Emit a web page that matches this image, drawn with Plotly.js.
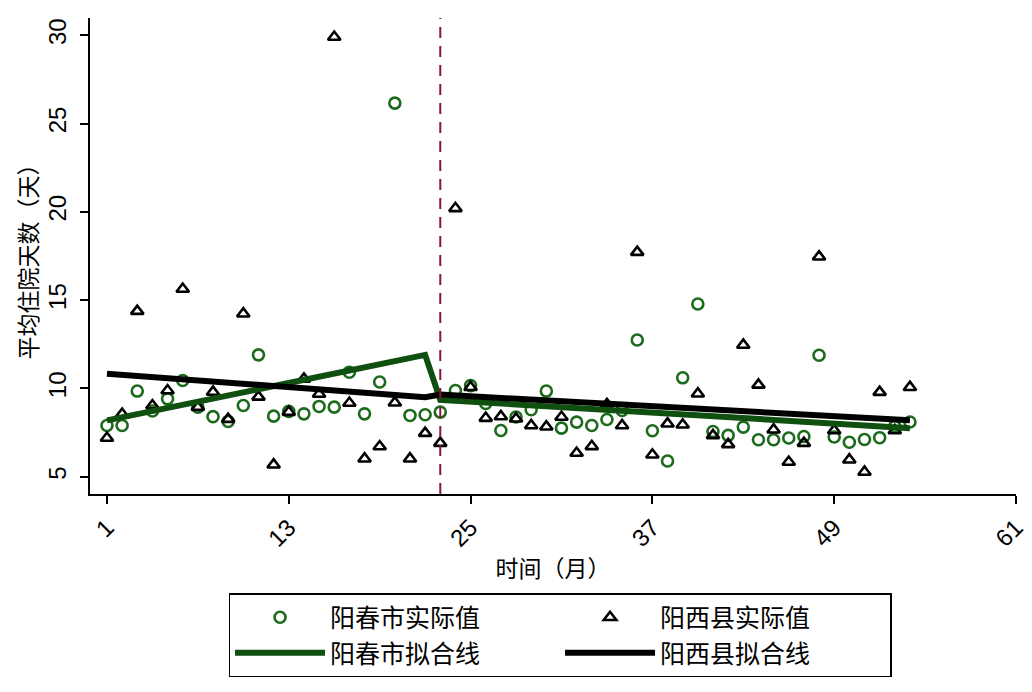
<!DOCTYPE html>
<html>
<head>
<meta charset="utf-8">
<script src="https://cdn.plot.ly/plotly-3.0.1.min.js"></script>
<style>
  body { margin: 0; background: #fff; }
  #chart { width: 1032px; height: 692px; }
</style>
</head>
<body>
<div id="chart"></div>
<script>
// 月份 1-54
var months = [];
for (var m = 1; m <= 54; m++) months.push(m);

// 阳春市实际值
var ycActual = [7.9, 7.9, 9.85, 8.72, 9.41, 10.45, 8.94, 8.4, 8.13, 9.03,
                11.9, 8.43, 8.7, 8.56, 8.98, 8.94, 10.92, 8.56, 10.36, 26.16,
                8.47, 8.51, 8.66, 9.88, 10.16, 9.15, 7.62, 8.38, 8.79, 9.85,
                7.75, 8.09, 7.9, 8.24, 8.75, 12.74, 7.6, 5.89, 10.6, 14.78,
                7.56, 7.34, 7.81, 7.09, 7.09, 7.19, 7.28, 11.88, 7.25, 6.95,
                7.11, 7.21, 7.85, 8.1];

// 阳西县实际值
var yxActual = [7.19, 8.55, 14.38, 9.03, 9.88, 15.63, 8.94, 9.8, 8.26, 14.23,
                9.52, 5.68, 8.66, 10.54, 9.68, 29.9, 9.17, 6.02, 6.71, 9.19,
                6.02, 7.47, 6.9, 20.2, 10.07, 8.32, 8.41, 8.28, 7.9, 7.83,
                8.38, 6.34, 6.72, 9.1, 7.9, 17.72, 6.24, 8.0, 7.94, 9.7,
                7.34, 6.83, 12.46, 10.2, 7.66, 5.83, 6.9, 17.46, 7.62, 5.96,
                5.27, 9.79, 7.62, 10.07];

// 拟合线（分段线性，干预点在第 23 月）
var fitMonths = [1, 22, 23, 54];
var ycFit = [8.19, 11.9, 9.35, 7.75];
var yxFit = [10.83, 9.5, 9.65, 8.2];

var interventionMonth = 23;
var xTicks = [1, 13, 25, 37, 49, 61];
var yTicks = [5, 10, 15, 20, 25, 30];

var font = '"Liberation Sans", "Noto Sans CJK SC", sans-serif';
var green = '#1c6a1c';
var darkGreen = '#0f4f0f';

var traces = [
  {
    x: months, y: ycActual, name: '阳春市实际值',
    type: 'scatter', mode: 'markers',
    marker: { symbol: 'circle-open', size: 11, color: green, line: { width: 2.6, color: green } },
    hoverinfo: 'x+y'
  },
  {
    x: months, y: yxActual, name: '阳西县实际值',
    type: 'scatter', mode: 'markers',
    marker: { symbol: 'triangle-up-open', size: 11, color: '#000', line: { width: 2.6, color: '#000' } },
    hoverinfo: 'x+y'
  },
  {
    x: fitMonths, y: ycFit, name: '阳春市拟合线',
    type: 'scatter', mode: 'lines',
    line: { color: darkGreen, width: 6 },
    hoverinfo: 'x+y'
  },
  {
    x: fitMonths, y: yxFit, name: '阳西县拟合线',
    type: 'scatter', mode: 'lines',
    line: { color: '#000', width: 6 },
    hoverinfo: 'x+y'
  }
];

var layout = {
  width: 1032,
  height: 692,
  paper_bgcolor: '#fff',
  plot_bgcolor: '#fff',
  font: { family: font, color: '#000', size: 22 },
  margin: { l: 90, r: 16, t: 18, b: 198 },
  showlegend: true,
  legend: {
    orientation: 'h',
    x: 0.5076, xanchor: 'center',
    y: -0.208, yanchor: 'top',
    bordercolor: '#000', borderwidth: 1.5,
    bgcolor: '#fff',
    font: { family: font, size: 25 },
    itemwidth: 90,
    entrywidth: 225,
    traceorder: 'normal'
  },
  xaxis: {
    range: [-0.12, 61],
    tickvals: xTicks,
    ticktext: xTicks.map(String),
    tickangle: -45,
    ticks: 'outside', ticklen: 8, tickwidth: 2, tickcolor: '#000',
    showline: true, linewidth: 2, linecolor: '#000',
    showgrid: false, zeroline: false,
    tickfont: { family: font, size: 24 },
    title: { text: '时间（月）', font: { family: font, size: 23 }, standoff: 10 },
    automargin: false
  },
  yaxis: {
    range: [4.02, 30.98],
    tickvals: yTicks,
    ticktext: yTicks.map(String),
    tickangle: -90,
    ticks: 'outside', ticklen: 8, tickwidth: 2, tickcolor: '#000',
    showline: true, linewidth: 2, linecolor: '#000',
    showgrid: false, zeroline: false,
    ticklabelstandoff: 4,
    tickfont: { family: font, size: 24 },
    title: { text: '平均住院天数（天）', font: { family: font, size: 23 }, standoff: 0 },
    automargin: false
  },
  shapes: [
    {
      type: 'line', xref: 'x', yref: 'paper',
      x0: interventionMonth, x1: interventionMonth, y0: 0, y1: 1,
      line: { color: '#8a1538', width: 2, dash: '11px,8px' }
    }
  ]
};

var config = { responsive: false, displayModeBar: false, staticPlot: true };

Plotly.newPlot('chart', traces, layout, config);
</script>
</body>
</html>
